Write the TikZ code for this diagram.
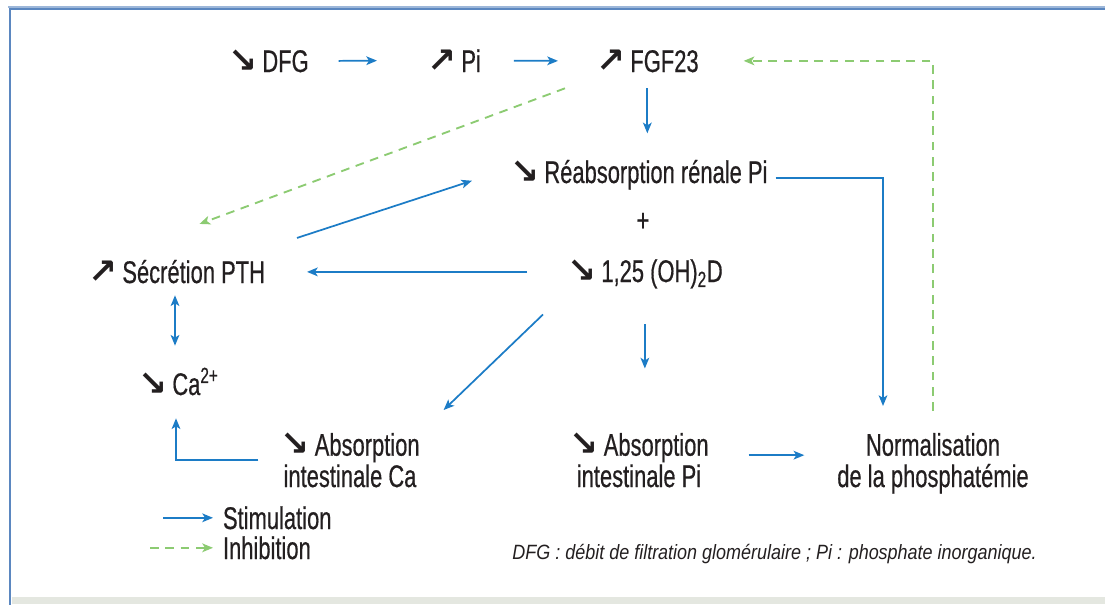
\documentclass[tikz,border=0pt]{standalone}
\usepackage{fontspec}
\setmainfont{Liberation Sans}[FakeStretch=0.70,FakeBold=0.5]
\newfontfamily\arrowfont{DejaVu Sans}
\newfontfamily\notefont{Liberation Sans}[FakeStretch=0.87]
\usetikzlibrary{arrows.meta,calc}
\definecolor{txt}{HTML}{231F20}
\definecolor{stimblue}{HTML}{1C7CC6}
\definecolor{inhgreen}{HTML}{8CCB72}
\definecolor{framblue}{HTML}{5B87C0}
\definecolor{bandgray}{HTML}{E4E7E0}
\newcommand\myDown{{\arrowfont\bfseries\fontsize{26}{26}\selectfont ↘}\hspace{4pt}}
\newcommand\myUp{{\arrowfont\bfseries\fontsize{26}{26}\selectfont ↗}\hspace{4pt}}
\tikzset{
  lbl/.style={inner sep=0pt, outer sep=0pt, text=txt, font=\fontsize{23.5}{23.5}\selectfont},
  two/.style={lbl, align=center},
  stim/.style={draw=stimblue, line width=1.3pt, -{Stealth[length=8pt,width=6.5pt,inset=2pt]}},
  stimboth/.style={draw=stimblue, line width=1.3pt, {Stealth[length=8pt,width=6.5pt,inset=2pt]}-{Stealth[length=8pt,width=6.5pt,inset=2pt]}},
  inhib/.style={draw=inhgreen, line width=1.4pt, dash pattern=on 6.5pt off 5pt, -{Stealth[length=8pt,width=6.5pt,inset=2pt]}},
}
\begin{document}
\begin{tikzpicture}[x=0.75pt,y=-0.75pt]
\useasboundingbox (0,0) rectangle (1105,604);
% frame
\fill[bandgray] (12,597) rectangle (1105,604);
\draw[framblue!60, line width=0.8pt] (8,7) -- (1105,7);
\draw[framblue, line width=2.2pt, line cap=rect] (10,604) -- (10,9) -- (1105,9);
% nodes
\node[lbl, anchor=base west] (dfg) at (228,72) {\myDown DFG};
\node[lbl, anchor=base west] (pi) at (427,72) {\myUp Pi};
\node[lbl, anchor=base west] (fgf) at (596,72) {\myUp FGF23};
\node[lbl, anchor=base west] (reab) at (510,183) {\myDown Réabsorption rénale Pi};
\node[lbl, anchor=base] (plus) at (643,231) {+};
\node[lbl, anchor=base west] (vitd) at (567,282) {\myDown 1,25 (OH)\textsubscript{2}D};
\node[lbl, anchor=base west] (pth) at (88,283) {\myUp Sécrétion PTH};
\node[lbl, anchor=base west] (ca) at (138,395) {\myDown Ca\textsuperscript{2+}};
\node[two, anchor=north] (absca) at (350,433) {\myDown Absorption\\intestinale Ca};
\node[two, anchor=north] (abspi) at (639,433) {\myDown Absorption\\intestinale Pi};
\node[two, anchor=north] (norm) at (933,433) {Normalisation\\de la phosphatémie};
\node[lbl, anchor=base west] (stimtxt) at (223,529) {Stimulation};
\node[lbl, anchor=base west] (inhtxt) at (223,559) {Inhibition};
\node[inner sep=0pt, text=txt, anchor=base east, font=\notefont\itshape\fontsize{15.5}{15.5}\selectfont] (note) at (1037,559) {DFG : débit de filtration glomérulaire ; Pi : phosphate inorganique.};
% connectors
\draw[stim] ($(dfg.east)+(30,0)$) -- ($(pi.west)+(-50,0)$);
\draw[stim] ($(pi.east)+(33,0)$) -- ($(fgf.west)+(-38,0)$);
\draw[stim] ($(fgf.south)+(0,16)$) -- ($(fgf.south)+(0,61)$);
\draw[inhib] ($(norm.north)+(0,-22)$) |- ($(fgf.east)+(45,0)$);
\draw[inhib] ($(fgf.south west)+(-31,16)$) -- ($(pth.north)+(23,-36)$);
\draw[stim] ($(reab.east)+(8,3)$) -| ($(norm.north)+(-50,-27)$);
\draw[stim] ($(vitd.west)+(-40,-2)$) -- ($(vitd.west -| pth.east)+(42,-2)$);
\draw[stim] ($(pth.north east)+(32,-22)$) -- ($(reab.west)+(-38,6)$);
\draw[stim] ($(vitd.south west)+(-24,26)$) -- ($(absca.north east)+(24,-23)$);
\draw[stim] ($(vitd.south)+(0,36)$) -- ++(0,44);
\draw[stimboth] ($(pth.south west)+(87,12)$) -- ($(ca.north west)+(37,-22)$);
\draw[stim] ($(absca.west)+(-22,0)$) -| ($(ca.south west)+(38,23)$);
\draw[stim] ($(abspi.east)+(40,-5)$) -- ($(abspi.east -| norm.west)+(-33,-5)$);
\draw[stim] ($(stimtxt.west)+(-60,0)$) -- ($(stimtxt.west)+(-10,0)$);
\draw[inhib] ($(inhtxt.west)+(-73,0)$) -- ($(inhtxt.west)+(-10,0)$);
\end{tikzpicture}
\end{document}
